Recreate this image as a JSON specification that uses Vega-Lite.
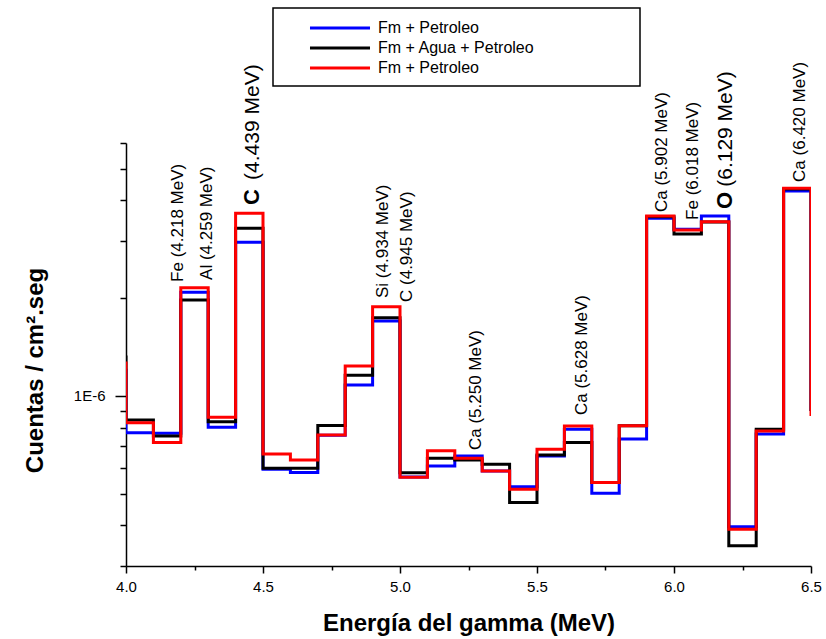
{
  "$schema": "https://vega.github.io/schema/vega-lite/v6.json",
  "width": 685,
  "height": 423,
  "autosize": {"type": "none"},
  "padding": {"left": 126, "top": 143, "right": 15, "bottom": 73},
  "background": "white",
  "config": {
    "view": {"stroke": null},
    "font": "Liberation Sans",
    "axis": {"grid": false, "domainColor": "black", "tickColor": "black", "labelColor": "black", "titleColor": "black", "domainWidth": 1.5, "tickWidth": 1.5},
    "legend": {"strokeWidth": 1.5}
  },
  "datasets": {
    "spec": [
      {"E": 3.9, "s": "a", "v": 1.2e-6}, {"E": 4.0, "s": "a", "v": 7.71e-7}, {"E": 4.1, "s": "a", "v": 7.68e-7}, {"E": 4.2, "s": "a", "v": 2.085e-6}, {"E": 4.3, "s": "a", "v": 8.01e-7}, {"E": 4.4, "s": "a", "v": 2.971e-6}, {"E": 4.5, "s": "a", "v": 5.95e-7}, {"E": 4.6, "s": "a", "v": 5.82e-7}, {"E": 4.7, "s": "a", "v": 7.57e-7}, {"E": 4.8, "s": "a", "v": 1.081e-6}, {"E": 4.9, "s": "a", "v": 1.701e-6}, {"E": 5.0, "s": "a", "v": 5.63e-7}, {"E": 5.1, "s": "a", "v": 6.09e-7}, {"E": 5.2, "s": "a", "v": 6.54e-7}, {"E": 5.3, "s": "a", "v": 5.88e-7}, {"E": 5.4, "s": "a", "v": 5.26e-7}, {"E": 5.5, "s": "a", "v": 6.54e-7}, {"E": 5.6, "s": "a", "v": 7.9e-7}, {"E": 5.7, "s": "a", "v": 5.02e-7}, {"E": 5.8, "s": "a", "v": 7.37e-7}, {"E": 5.9, "s": "a", "v": 3.522e-6}, {"E": 6.0, "s": "a", "v": 3.26e-6}, {"E": 6.1, "s": "a", "v": 3.58e-6}, {"E": 6.2, "s": "a", "v": 3.96e-7}, {"E": 6.3, "s": "a", "v": 7.64e-7}, {"E": 6.4, "s": "a", "v": 4.274e-6}, {"E": 6.5, "s": "a", "v": 9.0e-7},
      {"E": 3.9, "s": "b", "v": 1.318e-6}, {"E": 4.0, "s": "b", "v": 8.44e-7}, {"E": 4.1, "s": "b", "v": 7.53e-7}, {"E": 4.2, "s": "b", "v": 1.974e-6}, {"E": 4.3, "s": "b", "v": 8.34e-7}, {"E": 4.4, "s": "b", "v": 3.281e-6}, {"E": 4.5, "s": "b", "v": 5.99e-7}, {"E": 4.6, "s": "b", "v": 5.99e-7}, {"E": 4.7, "s": "b", "v": 8.12e-7}, {"E": 4.8, "s": "b", "v": 1.158e-6}, {"E": 4.9, "s": "b", "v": 1.741e-6}, {"E": 5.0, "s": "b", "v": 5.81e-7}, {"E": 5.1, "s": "b", "v": 6.43e-7}, {"E": 5.2, "s": "b", "v": 6.35e-7}, {"E": 5.3, "s": "b", "v": 6.17e-7}, {"E": 5.4, "s": "b", "v": 4.7e-7}, {"E": 5.5, "s": "b", "v": 6.58e-7}, {"E": 5.6, "s": "b", "v": 7.2e-7}, {"E": 5.7, "s": "b", "v": 5.42e-7}, {"E": 5.8, "s": "b", "v": 8.1e-7}, {"E": 5.9, "s": "b", "v": 3.56e-6}, {"E": 6.0, "s": "b", "v": 3.151e-6}, {"E": 6.1, "s": "b", "v": 3.43e-6}, {"E": 6.2, "s": "b", "v": 3.46e-7}, {"E": 6.3, "s": "b", "v": 7.9e-7}, {"E": 6.4, "s": "b", "v": 4.33e-6}, {"E": 6.5, "s": "b", "v": 9.0e-7},
      {"E": 3.9, "s": "c", "v": 1.263e-6}, {"E": 4.0, "s": "c", "v": 8.28e-7}, {"E": 4.1, "s": "c", "v": 7.2e-7}, {"E": 4.2, "s": "c", "v": 2.154e-6}, {"E": 4.3, "s": "c", "v": 8.6e-7}, {"E": 4.4, "s": "c", "v": 3.649e-6}, {"E": 4.5, "s": "c", "v": 6.63e-7}, {"E": 4.6, "s": "c", "v": 6.35e-7}, {"E": 4.7, "s": "c", "v": 7.58e-7}, {"E": 4.8, "s": "c", "v": 1.237e-6}, {"E": 4.9, "s": "c", "v": 1.883e-6}, {"E": 5.0, "s": "c", "v": 5.62e-7}, {"E": 5.1, "s": "c", "v": 6.79e-7}, {"E": 5.2, "s": "c", "v": 6.43e-7}, {"E": 5.3, "s": "c", "v": 5.88e-7}, {"E": 5.4, "s": "c", "v": 5.17e-7}, {"E": 5.5, "s": "c", "v": 6.86e-7}, {"E": 5.6, "s": "c", "v": 8.09e-7}, {"E": 5.7, "s": "c", "v": 5.42e-7}, {"E": 5.8, "s": "c", "v": 8.1e-7}, {"E": 5.9, "s": "c", "v": 3.58e-6}, {"E": 6.0, "s": "c", "v": 3.242e-6}, {"E": 6.1, "s": "c", "v": 3.438e-6}, {"E": 6.2, "s": "c", "v": 3.89e-7}, {"E": 6.3, "s": "c", "v": 7.8e-7}, {"E": 6.4, "s": "c", "v": 4.355e-6}, {"E": 6.5, "s": "c", "v": 8.68e-7}
    ],
    "labels": [
      {"t": "Fe (4.218 MeV)", "E": 4.208, "v": 2.243e-6, "k": "n"},
      {"t": "Al (4.259 MeV)", "E": 4.314, "v": 2.275e-6, "k": "n"},
      {"t": "Si (4.934 MeV)", "E": 4.956, "v": 2.002e-6, "k": "n"},
      {"t": "C (4.945 MeV)", "E": 5.044, "v": 1.946e-6, "k": "n"},
      {"t": "Ca (5.250 MeV)", "E": 5.296, "v": 6.82e-7, "k": "n"},
      {"t": "Ca (5.628 MeV)", "E": 5.682, "v": 8.74e-7, "k": "n"},
      {"t": "Ca (5.902 MeV)", "E": 5.974, "v": 3.68e-6, "k": "n"},
      {"t": "Fe (6.018 MeV)", "E": 6.088, "v": 3.48e-6, "k": "n"},
      {"t": "Ca (6.420 MeV)", "E": 6.478, "v": 4.555e-6, "k": "n"},
      {"t": "C", "E": 4.485, "v": 3.87e-6, "k": "b"},
      {"t": "O", "E": 6.212, "v": 3.76e-6, "k": "b"},
      {"t": "(4.439 MeV)", "E": 4.485, "v": 4.62e-6, "k": "p"},
      {"t": "(6.129 MeV)", "E": 6.212, "v": 4.4e-6, "k": "p"}
    ]
  },
  "layer": [
    {
      "data": {"name": "spec"},
      "mark": {"type": "line", "interpolate": "step-after", "strokeWidth": 3, "clip": true},
      "encoding": {
        "x": {"field": "E", "type": "quantitative", "scale": {"domain": [4, 6.5], "nice": false, "zero": false},
          "axis": {"orient": "bottom", "values": [4, 4.5, 5, 5.5, 6, 6.5], "format": ".1f", "tickSize": 7, "labelFontSize": 15, "labelPadding": 6, "labelFlush": false, "title": "Energía del gamma (MeV)", "titleFontSize": 24, "titleFontWeight": "bold", "titleY": 64, "titleBaseline": "alphabetic"}},
        "y": {"field": "v", "type": "quantitative", "scale": {"type": "log", "domain": [3e-7, 6e-6], "nice": false},
          "axis": {"orient": "left", "values": [1e-6], "labelExpr": "'1E-6'", "tickSize": 11, "labelFontSize": 15, "labelPadding": 10, "title": "Cuentas / cm².seg", "titleFontSize": 24, "titleFontWeight": "bold", "titleX": -84, "titleY": 227, "titleAngle": 270, "titleBaseline": "alphabetic"}},
        "color": {"field": "s", "type": "nominal",
          "scale": {"domain": ["a", "b", "c"], "range": ["#0000ff", "#000000", "#ff0000"]},
          "legend": {"orient": "none", "legendX": 147, "legendY": -135, "title": null, "strokeColor": "black", "fillColor": "white", "padding": 10, "cornerRadius": 0,
            "symbolType": "M-3.53,0H3.53M33.3,0", "symbolSize": 289, "symbolStrokeWidth": 3, "symbolOffset": 47, "labelOffset": 28, "labelFontSize": 16, "labelLimit": 0, "rowPadding": 2, "labelColor": "black",
            "labelExpr": "datum.value == 'b' ? 'Fm + Agua + Petroleo' : 'Fm + Petroleo'"}}
      }
    },
    {
      "data": {"name": "spec"},
      "mark": {"type": "point", "opacity": 0},
      "encoding": {
        "x": {"field": "E", "type": "quantitative", "scale": {"domain": [4, 6.5], "nice": false, "zero": false},
          "axis": {"orient": "bottom", "values": [4.25, 4.75, 5.25, 5.75, 6.25], "tickSize": 4, "labels": false, "domain": false, "title": null}},
        "y": {"field": "v", "type": "quantitative", "scale": {"type": "log", "domain": [3e-7, 6e-6], "nice": false},
          "axis": {"orient": "left", "values": [3e-7, 4e-7, 5e-7, 6e-7, 7e-7, 8e-7, 9e-7, 2e-6, 3e-6, 4e-6, 5e-6, 6e-6], "tickSize": 6, "labels": false, "domain": false, "title": null}}
      }
    },
    {
      "data": {"name": "labels"},
      "transform": [{"filter": "datum.k == 'n'"}],
      "mark": {"type": "text", "angle": 270, "align": "left", "baseline": "alphabetic", "fontSize": 17, "color": "black"},
      "encoding": {
        "x": {"field": "E", "type": "quantitative", "scale": {"domain": [4, 6.5], "nice": false, "zero": false}, "axis": null},
        "y": {"field": "v", "type": "quantitative", "scale": {"type": "log", "domain": [3e-7, 6e-6], "nice": false}, "axis": null},
        "text": {"field": "t"}
      }
    },
    {
      "data": {"name": "labels"},
      "transform": [{"filter": "datum.k == 'p'"}],
      "mark": {"type": "text", "angle": 270, "align": "left", "baseline": "alphabetic", "fontSize": 21, "color": "black"},
      "encoding": {
        "x": {"field": "E", "type": "quantitative", "scale": {"domain": [4, 6.5], "nice": false, "zero": false}, "axis": null},
        "y": {"field": "v", "type": "quantitative", "scale": {"type": "log", "domain": [3e-7, 6e-6], "nice": false}, "axis": null},
        "text": {"field": "t"}
      }
    },
    {
      "data": {"name": "labels"},
      "transform": [{"filter": "datum.k == 'b'"}],
      "mark": {"type": "text", "angle": 270, "align": "left", "baseline": "alphabetic", "fontSize": 22, "fontWeight": "bold", "color": "black"},
      "encoding": {
        "x": {"field": "E", "type": "quantitative", "scale": {"domain": [4, 6.5], "nice": false, "zero": false}, "axis": null},
        "y": {"field": "v", "type": "quantitative", "scale": {"type": "log", "domain": [3e-7, 6e-6], "nice": false}, "axis": null},
        "text": {"field": "t"}
      }
    }
  ],
  "resolve": {"axis": {"x": "independent", "y": "independent"}}
}
